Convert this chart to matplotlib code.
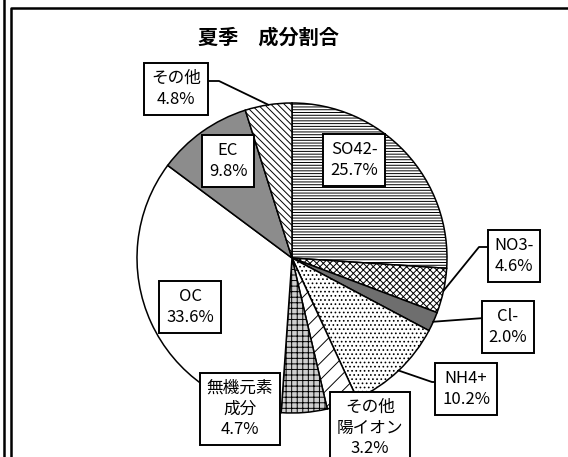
import numpy as np
import matplotlib
matplotlib.use('Agg')
import matplotlib.pyplot as plt

plt.rcParams['font.family'] = ['Noto Sans CJK JP', 'DejaVu Sans']
plt.rcParams['hatch.linewidth'] = 0.7

# Dados (sentido horário a partir do topo)
nomes = ['SO42-', 'NO3-', 'Cl-', 'NH4+', 'その他\n陽イオン', '無機元素\n成分', 'OC', 'EC', 'その他']
valores = [25.7, 4.6, 2.0, 10.2, 3.2, 4.7, 33.6, 9.8, 4.8]
titulo = '夏季　成分割合'

# Estilos de cada fatia
faces = ['white', 'white', '#6e6e6e', 'white', 'white', '#cfcfcf', 'white', '#8c8c8c', 'white']
hachuras = ['------', 'xxxxx', '', '....', '//', '+++', '', '', '\\\\\\\\\\']

W, H = 568, 457
fig = plt.figure(figsize=(W / 100, H / 100), dpi=100)
ax = fig.add_axes([0, 0, 1, 1])

def py(y):
    return H - y

cx, cy, r = 292, 258, 155

fatias, _ = ax.pie(valores, center=(cx, py(cy)), radius=r, startangle=90, counterclock=False,
                   colors=faces, wedgeprops=dict(edgecolor='black', linewidth=1.1), frame=True)
for w, h in zip(fatias, hachuras):
    w.set_hatch(h)
ax.set_xlim(0, W)
ax.set_ylim(0, H)
ax.set_aspect('equal')
ax.axis('off')

# Moldura
ax.plot([3.5, 3.5], [0, H], color='black', lw=1.8)
ax.plot([11, 11, W + 5], [0, py(7.5), py(7.5)], color='black', lw=1.8)

ax.text(268, py(37), titulo, ha='center', va='center', fontsize=14.5, fontweight='bold')

# Posição das caixas de rótulo (centro) e cotovelo da linha de chamada
caixas = [(354, 160), (514, 256), (508, 327), (466, 389), (370, 428), (240, 409), (190, 307), (228, 161), (176, 89)]
cotovelos = [None, [(488, 247), (479, 247)], [(484, 318)], [(438, 382), (432, 382)], None, None, None, None,
             [(209, 81), (219, 81)]]

for w, nome, v, (bx, by), cot in zip(fatias, nomes, valores, caixas, cotovelos):
    ax.text(bx, py(by), f'{nome}\n{v:.1f}%', ha='center', va='center', fontsize=12, linespacing=1.3,
            bbox=dict(boxstyle='square,pad=0.4', facecolor='white', edgecolor='black', linewidth=1.4),
            zorder=5)
    if cot:
        ang = np.deg2rad((w.theta1 + w.theta2) / 2)
        ex = cx + r * np.cos(ang)
        ey = py(cy) + r * np.sin(ang)
        xs = [p[0] for p in cot] + [ex]
        ys = [py(p[1]) for p in cot] + [ey]
        ax.plot(xs, ys, color='black', lw=1.3, zorder=4)

fig.savefig('out.png', dpi=100)
